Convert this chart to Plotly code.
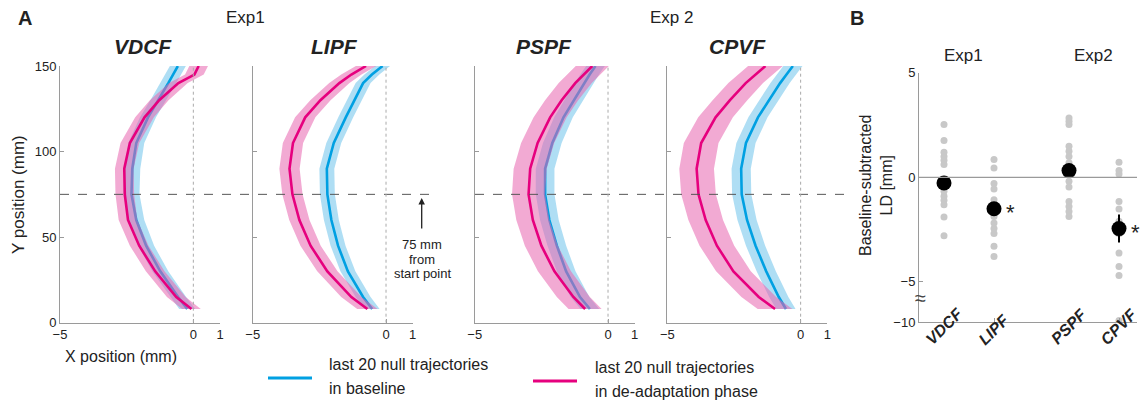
import plotly.graph_objects as go

# ---------------- Panel A data (X position in mm at given Y positions) ----------------
Y_LEVELS = [8, 15, 30, 45, 60, 75, 90, 105, 120, 130, 140, 145, 150]
CONDITIONS = ["VDCF", "LIPF", "PSPF", "CPVF"]

BASE_VDCF = [-0.23, -0.57, -1.24, -1.77, -2.14, -2.32, -2.29, -2.14, -1.70, -1.31, -0.94, -0.76, -0.58]
DEAD_VDCF = [-0.07, -0.64, -1.43, -2.03, -2.45, -2.57, -2.59, -2.38, -1.83, -1.28, -0.56, 0.04, 0.20]
BASE_LIPF = [-0.52, -0.86, -1.43, -1.80, -2.05, -2.20, -2.22, -1.96, -1.51, -1.19, -0.86, -0.53, -0.13]
DEAD_LIPF = [-0.70, -1.30, -2.20, -2.83, -3.25, -3.51, -3.62, -3.49, -3.03, -2.46, -1.75, -1.30, -0.75]
BASE_PSPF = [-0.68, -1.05, -1.57, -1.92, -2.20, -2.36, -2.36, -2.09, -1.67, -1.29, -0.90, -0.69, -0.47]
DEAD_PSPF = [-0.86, -1.30, -2.01, -2.50, -2.82, -2.98, -2.92, -2.64, -2.17, -1.74, -1.23, -0.91, -0.59]
BASE_CPVF = [-0.55, -0.82, -1.29, -1.69, -2.01, -2.21, -2.23, -2.05, -1.60, -1.19, -0.77, -0.53, -0.29]
DEAD_CPVF = [-0.96, -1.57, -2.52, -3.14, -3.56, -3.83, -3.90, -3.73, -3.19, -2.65, -2.06, -1.69, -1.32]

# half-width of shaded band (mm) per condition
BASE_SE = [0.30, 0.28, 0.35, 0.36]
DEAD_SE = [0.35, 0.38, 0.62, 0.65]

BASELINE = [BASE_VDCF, BASE_LIPF, BASE_PSPF, BASE_CPVF]
DEADAPT = [DEAD_VDCF, DEAD_LIPF, DEAD_PSPF, DEAD_CPVF]

# ---------------- Panel B data ----------------
B_LABELS = ["VDCF", "LIPF", "PSPF", "CPVF"]
B_XPOS = [1, 2, 3.5, 4.5]
SUBJ_VDCF = [2.52, 1.76, 1.20, 1.00, 0.81, 0.61, -0.10, -0.40, -0.67, -0.91, -1.10, -1.31, -1.90, -2.79]
SUBJ_LIPF = [0.85, 0.45, -0.30, -0.56, -1.07, -1.30, -1.60, -1.87, -2.18, -2.45, -2.69, -3.30, -3.78]
SUBJ_PSPF = [2.84, 2.68, 2.52, 1.48, 1.24, 1.00, 0.70, 0.30, -0.19, -0.46, -1.15, -1.39, -1.63, -1.87]
SUBJ_CPVF = [0.72, 0.32, 0.16, -1.15, -1.51, -2.10, -2.70, -3.62, -4.26, -4.69, -9.80]
B_MEAN = [-0.27, -1.50, 0.32, -2.45]
B_SE = [0.30, 0.30, 0.30, 0.67]
B_SIG = [False, True, False, True]
B_YTICKS = [5, 0, -5, -10]

# broken-axis mapping for panel B (values below -5 compressed)
BREAK_AT = -5.0
BREAK_SCALE = 0.383


def brk(v):
    return v if v >= BREAK_AT else BREAK_AT + (v - BREAK_AT) * BREAK_SCALE


W, H = 1140, 403
FONT = "Liberation Sans, Arial, sans-serif"
BLUE = "rgb(0,160,226)"
PINK = "rgb(230,0,126)"
BLUE_BAND = "rgba(110,195,235,0.55)"
PINK_BAND = "rgba(232,100,175,0.55)"
AXC = "#9a9a9a"


def px(x):
    return x / W


def py(y):
    return 1 - y / H


fig = go.Figure()

# panel domains in pixels
A_DOMAINS = [(60, 220), (252.7, 412.7), (474.7, 634.7), (667.3, 827.3)]
A_YDOM = [py(322.7), py(66)]

for i in range(4):
    xa = "x" if i == 0 else f"x{i+1}"
    ya = "y" if i == 0 else f"y{i+1}"
    ylev = Y_LEVELS
    for series, se, band, line in [
        (BASELINE[i], BASE_SE[i], BLUE_BAND, BLUE),
        (DEADAPT[i], DEAD_SE[i], PINK_BAND, PINK),
    ]:
        upper = [v + se for v in series]
        lower = [v - se for v in series]
        fig.add_trace(go.Scatter(
            x=upper + lower[::-1], y=ylev + ylev[::-1], fill="toself",
            fillcolor=band, line=dict(width=0), mode="lines",
            hoverinfo="skip", showlegend=False, xaxis=xa, yaxis=ya))
        fig.add_trace(go.Scatter(
            x=series, y=ylev, mode="lines", line=dict(color=line, width=2.6),
            showlegend=False, xaxis=xa, yaxis=ya))

# panel B traces
subj = [SUBJ_VDCF, SUBJ_LIPF, SUBJ_PSPF, SUBJ_CPVF]
gx, gy = [], []
for xp, vals in zip(B_XPOS, subj):
    for v in vals:
        gx.append(xp)
        gy.append(brk(v))
fig.add_trace(go.Scatter(x=gx, y=gy, mode="markers",
                         marker=dict(color="rgb(200,200,200)", size=7),
                         showlegend=False, xaxis="x5", yaxis="y5"))
fig.add_trace(go.Scatter(x=B_XPOS, y=B_MEAN, mode="markers",
                         marker=dict(color="black", size=15),
                         error_y=dict(type="data", array=B_SE, color="black",
                                      thickness=2, width=0),
                         showlegend=False, xaxis="x5", yaxis="y5"))

layout = dict(
    width=W, height=H, margin=dict(l=0, r=0, t=0, b=0, autoexpand=False),
    paper_bgcolor="white", plot_bgcolor="white",
    font=dict(family=FONT, color="#222", size=13),
    showlegend=False,
)

for i, (d0, d1) in enumerate(A_DOMAINS):
    xk = "xaxis" if i == 0 else f"xaxis{i+1}"
    yk = "yaxis" if i == 0 else f"yaxis{i+1}"
    ya = "y" if i == 0 else f"y{i+1}"
    xa = "x" if i == 0 else f"x{i+1}"
    layout[xk] = dict(domain=[px(d0), px(d1)], range=[-5, 1], anchor=ya,
                      tickvals=[-5, 0, 1], ticks="inside", ticklen=4,
                      tickcolor=AXC, showline=True, linecolor=AXC,
                      showgrid=False, zeroline=False, automargin=False,
                      tickfont=dict(size=13, color="#222"))
    layout[yk] = dict(domain=A_YDOM, range=[0, 150], anchor=xa,
                      tickvals=[0, 50, 100, 150], ticks="inside", ticklen=4,
                      tickcolor=AXC, showline=True, linecolor=AXC,
                      showgrid=False, zeroline=False, automargin=False,
                      showticklabels=(i == 0),
                      tickfont=dict(size=13, color="#222"))

layout["xaxis5"] = dict(domain=[px(919), px(1137)], range=[0.5, 4.86], anchor="y5",
                        tickvals=B_XPOS, ticktext=["", "", "", ""], ticks="inside",
                        ticklen=4, tickcolor=AXC, showline=True, linecolor=AXC,
                        showgrid=False, zeroline=False, automargin=False)
layout["yaxis5"] = dict(domain=[py(322), py(72.7)], range=[brk(-10), 5], anchor="x5",
                        tickvals=[brk(v) for v in B_YTICKS],
                        ticktext=[str(v).replace("-", "\u2212") for v in B_YTICKS],
                        ticks="inside", ticklen=4, tickcolor=AXC, showline=True,
                        linecolor=AXC, showgrid=False, zeroline=False, automargin=False,
                        tickfont=dict(size=13, color="#222"))

shapes = []
# dashed 75 mm line
for x0, x1 in [(60, 433), (475, 845)]:
    shapes.append(dict(type="line", xref="paper", yref="y", x0=px(x0), x1=px(x1),
                       y0=75, y1=75, line=dict(color="#555", width=1, dash="dash")))
# dotted zero lines
for i in range(4):
    xa = "x" if i == 0 else f"x{i+1}"
    ya = "y" if i == 0 else f"y{i+1}"
    shapes.append(dict(type="line", xref=xa, yref=ya, x0=0, x1=0, y0=0, y1=150,
                       line=dict(color="#aaa", width=1, dash="dot")))
# panel B zero line
shapes.append(dict(type="line", xref="x5 domain", yref="y5", x0=0, x1=1, y0=0, y1=0,
                   line=dict(color=AXC, width=1.2)))
# legend line glyphs
shapes.append(dict(type="line", xref="paper", yref="paper", x0=px(268), x1=px(312),
                   y0=py(378), y1=py(378), line=dict(color=BLUE, width=3)))
shapes.append(dict(type="line", xref="paper", yref="paper", x0=px(533), x1=px(577),
                   y0=py(381), y1=py(381), line=dict(color=PINK, width=3)))
layout["shapes"] = shapes

ann = []


def text(x, y, s, size=16, angle=0, xanchor="center", bold=False, italic=False, color="#222"):
    if italic:
        s = f"<i>{s}</i>"
    if bold:
        s = f"<b>{s}</b>"
    ann.append(dict(x=px(x), y=py(y), xref="paper", yref="paper", text=s, showarrow=False,
                    font=dict(size=size, color=color, family=FONT), textangle=angle,
                    xanchor=xanchor, yanchor="middle"))


text(25, 18, "A", size=20, bold=True)
text(857, 18, "B", size=20, bold=True)
text(245, 18, "Exp1", size=17)
text(671, 18, "Exp 2", size=17)
text(963, 55, "Exp1", size=17)
text(1093, 55, "Exp2", size=17)
for name, cx in zip(CONDITIONS, [143, 334, 544, 737]):
    text(cx, 47, name, size=21, bold=True, italic=True)
text(18, 195, "Y position (mm)", size=17, angle=-90)
text(121, 356, "X position (mm)", size=16)
text(876, 185, "Baseline-subtracted<br>LD [mm]", size=16, angle=-90)
text(422, 245, "75 mm", size=13)
text(422, 259, "from", size=13)
text(422, 273, "start point", size=13)
text(327, 364, "last 20 null trajectories", size=16, xanchor="left")
text(327, 388, "in baseline", size=16, xanchor="left")
text(593, 367, "last 20 null trajectories", size=16, xanchor="left")
text(593, 391, "in de-adaptation phase", size=16, xanchor="left")
text(920, 298, "\u2248", size=20, color="#444")

# arrow
ann.append(dict(x=px(421.7), y=py(198), xref="paper", yref="paper", text="", showarrow=True,
                ax=0, ay=32, arrowhead=2, arrowsize=1, arrowwidth=1.3, arrowcolor="#222"))

# B category labels and significance stars
for lab, xp in zip(B_LABELS, B_XPOS):
    ann.append(dict(x=xp, y=py(351), xref="x5", yref="paper", text=f"<b><i>{lab}</i></b>",
                    showarrow=False, textangle=-45,
                    font=dict(size=16, color="#222", family=FONT)))
for sig, xp, m in zip(B_SIG, B_XPOS, B_MEAN):
    if sig:
        ann.append(dict(x=xp, y=m, xref="x5", yref="y5", text="*", showarrow=False,
                        xshift=16, yshift=-4, font=dict(size=22, color="#222", family=FONT)))

layout["annotations"] = ann
fig.update_layout(**layout)
fig.write_html("out.html", config={"displayModeBar": False},
               post_script="document.body.style.margin='0';document.body.style.overflow='hidden';")
